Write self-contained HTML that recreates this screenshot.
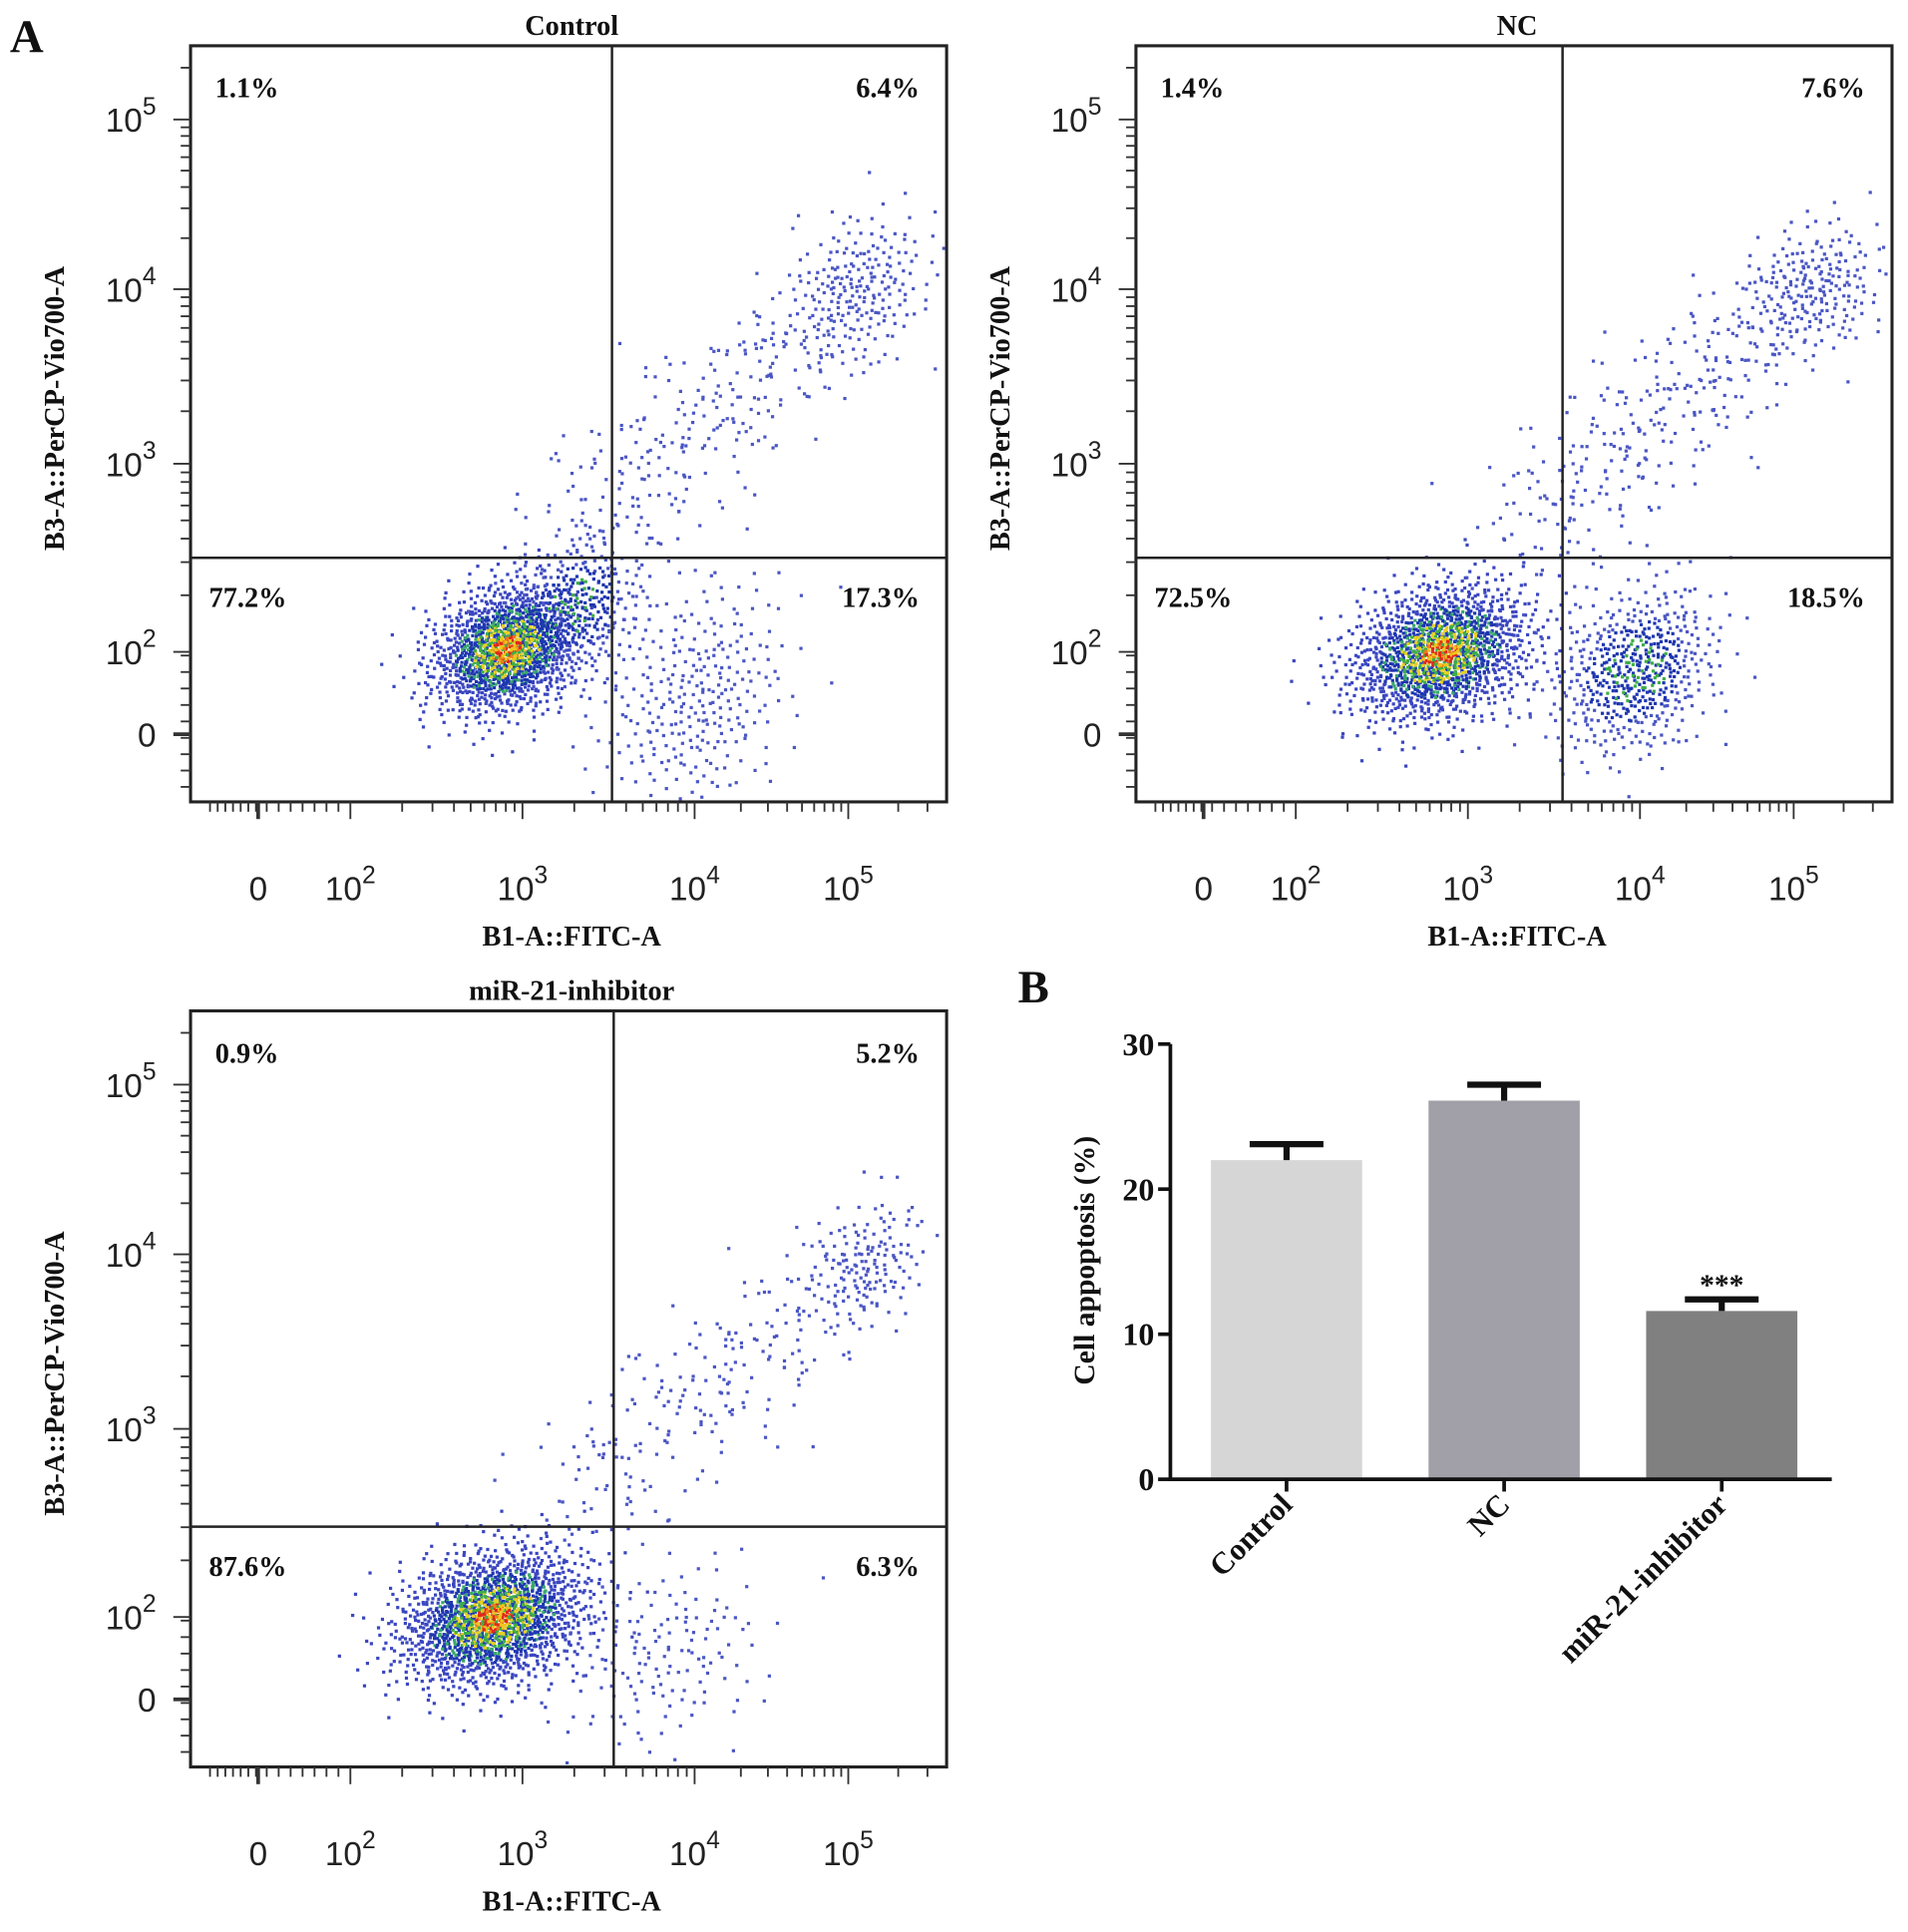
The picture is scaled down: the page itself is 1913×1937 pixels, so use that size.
<!DOCTYPE html>
<html><head><meta charset="utf-8">
<style>
html,body{margin:0;padding:0;background:#fff;}
svg{display:block;}
.ser{font-family:"Liberation Serif",serif;font-weight:bold;fill:#111;}
.sans{font-family:"Liberation Sans",sans-serif;fill:#222;}
</style></head>
<body>
<svg id="fig" width="1913" height="1937" viewBox="0 0 1552 1571" xmlns="http://www.w3.org/2000/svg">
<text class="ser" x="8" y="42" font-size="38">A</text>
<text class="ser" x="828" y="815" font-size="38">B</text>
<g id="flows"></g>
<g id="bars"></g>
</svg>
<script>
// ---- Flow cytometry data (cluster descriptors in display-channel units) ----
const panelTitles = ["Control", "NC", "miR-21-inhibitor"];
const quadrantPercents = [
  ["1.1%", "6.4%", "77.2%", "17.3%"],
  ["1.4%", "7.6%", "72.5%", "18.5%"],
  ["0.9%", "5.2%", "87.6%", "6.3%"]
];
// each cluster: [x0, y0, x1, y1, sx, sy, n, mode]  mode 1 = dense heat colouring, 2 = light colouring
const clustersControl = [
  [2.9, 2.02, 2.9, 2.02, 0.22, 0.17, 1400, 1],
  [3.3, 2.25, 3.3, 2.25, 0.2, 0.18, 300, 2],
  [3.25, 2.65, 4.8, 3.8, 0.22, 0.25, 260, 0],
  [5.05, 4.0, 5.05, 4.0, 0.22, 0.22, 220, 0],
  [4.0, 1.75, 4.0, 1.75, 0.3, 0.32, 300, 0]
];
const clustersNC = [
  [2.83, 2.0, 2.83, 2.0, 0.26, 0.18, 1500, 1],
  [3.97, 1.9, 3.97, 1.9, 0.25, 0.22, 550, 2],
  [3.3, 2.65, 4.8, 3.8, 0.22, 0.25, 280, 0],
  [5.1, 4.0, 5.1, 4.0, 0.22, 0.2, 230, 0]
];
const clustersMiR = [
  [2.82, 2.0, 2.82, 2.0, 0.27, 0.18, 1700, 1],
  [3.25, 2.65, 4.9, 3.8, 0.22, 0.25, 220, 0],
  [5.1, 3.95, 5.1, 3.95, 0.18, 0.18, 150, 0],
  [3.8, 1.8, 3.8, 1.8, 0.32, 0.25, 150, 0]
];
const flowClusters = [clustersControl, clustersNC, clustersMiR];
const yTickValues = [1.55, 2, 3, 4, 5];
const yTickLabels = ["0", "2", "3", "4", "5"];
const xTickValues = [1.46, 2, 3, 4, 5];
const xTickLabels = ["0", "2", "3", "4", "5"];
const quadX = [3.52, 3.55, 3.53];
const quadY = [2.5, 2.5, 2.48];

// ---- Bar chart data ----
const barCategories = ["Control", "NC", "miR-21-inhibitor"];
const barValues = [22.0, 26.1, 11.6];
const barErrors = [1.1, 1.1, 0.8];
const barTicks = [0, 10, 20, 30];
const barColors = ["#d6d6d6", "#a1a0a8", "#808080"];

const NS = "http://www.w3.org/2000/svg";
function mk(tag, attrs, parent) {
  const e = document.createElementNS(NS, tag);
  for (const k in attrs) e.setAttribute(k, attrs[k]);
  parent.appendChild(e);
  return e;
}
function interp(knots, v) {
  for (let i = 0; i < knots.length - 1; i++) {
    const a = knots[i], b = knots[i + 1];
    if (v <= b[0] || i === knots.length - 2) return a[1] + (v - a[0]) * (b[1] - a[1]) / (b[0] - a[0]);
  }
}
const xKnots = [[0, -75], [1.46, 55], [2, 130], [3, 270], [4, 410], [5, 535], [6, 670]];
const yKnots = [[0.5, 715], [1.55, 560], [2, 493], [3, 340], [4, 198], [5, 60], [6, -80]];
function halton(i, b) { let f = 1, r = 0; while (i > 0) { f /= b; r += f * (i % b); i = Math.floor(i / b); } return r; }

const panels = [[155, 37], [924, 37], [155, 822]];
const W = 615, H = 615;
const flows = document.getElementById("flows");

panels.forEach((p, pi) => {
  const [L, T] = p;
  const xs = v => L + interp(xKnots, v);
  const ys = v => T + interp(yKnots, v);
  const g = mk("g", {}, flows);
  
  
  const t = mk("text", { x: L + 310, y: T - 9, "font-size": 23, "text-anchor": "middle", class: "ser" }, g);
  t.textContent = panelTitles[pi];
  
  
  const pts = [];
  let seed = 1 + pi * 7000;
  flowClusters[pi].forEach(c => {
    const [x0, y0, x1, y1, sx, sy, n, mode] = c;
    for (let k = 0; k < n; k++) {
      seed++;
      const u1 = Math.max(halton(seed, 2), 0.004), u2 = halton(seed, 3), tt = halton(seed, 5), cc = halton(seed, 7);
      const rr = Math.sqrt(-2 * Math.log(u1));
      const zx = rr * Math.cos(2 * Math.PI * u2), zy = rr * Math.sin(2 * Math.PI * u2);
      const vx = x0 + (x1 - x0) * tt + zx * sx, vy = y0 + (y1 - y0) * tt + zy * sy + zx * sy * 0.25;
      let col = "#4a56c4", rank = 0;
      if (mode === 1) {
        if (rr < 0.4) { col = cc < 0.35 ? "#e0281a" : (cc < 0.7 ? "#f0c41e" : (cc < 0.85 ? "#f07a18" : "#3eae48")); rank = 3; }
        else if (rr < 0.9) { if (cc < 0.25) { col = "#e8d024"; rank = 2; } else if (cc < 0.55) { col = "#3eae48"; rank = 2; } else { col = "#1f3cb8"; rank = 1; } }
        else if (rr < 1.35) { if (cc < 0.25) { col = "#38a868"; rank = 1; } else { col = "#1e36b0"; rank = 1; } }
        else { col = "#3a46c0"; }
      } else if (mode === 2) {
        if (rr < 0.8 && cc < 0.3) { col = "#3eae48"; rank = 2; }
        else if (rr < 1.2) { col = "#1e36b0"; rank = 1; }
      }
      const px = xs(vx), py = ys(vy);
      if (px < L + 3 || px > L + W - 3 || py < T + 3 || py > T + H - 3) continue;
      pts.push([px, py, col, rank]);
    }
  });
  pts.sort((a, b) => a[3] - b[3]);
  const pg = mk("g", {}, g);
  
  
  pts.forEach(q => mk("rect", { x: q[0].toFixed(1), y: q[1].toFixed(1), width: 2.6, height: 2.6, fill: q[2] }, pg));
  const box = mk("rect", { x: L, y: T, width: W, height: H, fill: "none", stroke: "#222", "stroke-width": 2.5 }, g);
  
  
  const qv = mk("line", { x1: xs(quadX[pi]), x2: xs(quadX[pi]), y1: T, y2: T + H, stroke: "#222", "stroke-width": 2 }, g);
  
  
  const qh = mk("line", { x1: L, x2: L + W, y1: ys(quadY[pi]), y2: ys(quadY[pi]), stroke: "#222", "stroke-width": 2 }, g);
  
  
  const qp = quadrantPercents[pi];
  const qpos = [[L + 20, T + 42, "start"], [L + W - 22, T + 42, "end"], [L + 15, ys(quadY[pi]) + 40, "start"], [L + W - 22, ys(quadY[pi]) + 40, "end"]];
  const qn = ["q1-label", "q2-label", "q3-label", "q4-label"];
  qp.forEach((s, i) => {
    const e = mk("text", { x: qpos[i][0], y: qpos[i][1], "font-size": 23, "text-anchor": qpos[i][2], class: "ser" }, g);
    e.textContent = s;
    
    
  });
  for (let d = 2; d < 5.5; d += 1) {
    for (let m = 1; m < 10; m++) {
      const yy = ys(d + Math.log10(m));
      if (yy < T + 10) continue;
      mk("line", { x1: L - (m === 1 ? 14 : 8), x2: L, y1: yy, y2: yy, stroke: "#333", "stroke-width": 1.5 }, g);
    }
  }
  for (let v = 0.9; v < 2; v += 0.09) {
    const yy = ys(v);
    if (yy > T + H) continue;
    mk("line", { x1: L - 8, x2: L, y1: yy, y2: yy, stroke: "#333", "stroke-width": 1.5 }, g);
  }
  mk("line", { x1: L - 14, x2: L, y1: ys(1.55), y2: ys(1.55), stroke: "#333", "stroke-width": 3 }, g);
  for (let d = 2; d < 6; d += 1) {
    for (let m = 1; m < 10; m++) {
      const xx = xs(d + Math.log10(m));
      if (xx > L + W - 5) continue;
      mk("line", { x1: xx, x2: xx, y1: T + H, y2: T + H + (m === 1 ? 14 : 8), stroke: "#333", "stroke-width": 1.5 }, g);
    }
  }
  for (let v = 1.02; v < 2; v += 0.07) {
    const xx = xs(v);
    if (xx < L) continue;
    mk("line", { x1: xx, x2: xx, y1: T + H, y2: T + H + 8, stroke: "#333", "stroke-width": 1.5 }, g);
  }
  mk("line", { x1: xs(1.46), x2: xs(1.46), y1: T + H, y2: T + H + 14, stroke: "#333", "stroke-width": 3 }, g);
  yTickLabels.forEach((s, i) => {
    const e = mk("text", { x: L - 28, y: ys(yTickValues[i]) + 10, "font-size": 27, "text-anchor": "end", class: "sans" }, g);
    if (s === "0") e.textContent = "0";
    else { e.textContent = "10"; const sp = mk("tspan", { dy: -14, "font-size": 20 }, e); sp.textContent = s; }
    
    
  });
  xTickLabels.forEach((s, i) => {
    const e = mk("text", { x: xs(xTickValues[i]), y: T + H + 80, "font-size": 27, "text-anchor": "middle", class: "sans" }, g);
    if (s === "0") e.textContent = "0";
    else { e.textContent = "10"; const sp = mk("tspan", { dy: -14, "font-size": 20 }, e); sp.textContent = s; }
    
    
  });
  const xt = mk("text", { x: L + 310, y: T + H + 117, "font-size": 23, "text-anchor": "middle", class: "ser" }, g);
  xt.textContent = "B1-A::FITC-A";
  
  
  const yt = mk("text", { x: 0, y: 0, "font-size": 23, "text-anchor": "middle", class: "ser", transform: `translate(${L - 103},${T + 295}) rotate(-90)` }, g);
  yt.textContent = "B3-A::PerCP-Vio700-A";
  
  
});

// ---- Bar chart ----
const bars = document.getElementById("bars");
const AX = 952, Y0 = 1203, Y30 = 849, XR = 1490;
const by = v => Y0 + (Y30 - Y0) * v / 30;
const bandL = 962, band = 177, bw = 123;
const bx = i => bandL + 23 + band * i;
barCategories.forEach((c, i) => {
  const top = by(barValues[i]);
  const r = mk("rect", { x: bx(i), y: top, width: bw, height: Y0 - top, fill: barColors[i] }, bars);
  
  
  const cx = bx(i) + bw / 2, et = by(barValues[i] + barErrors[i]);
  const eb = mk("path", { d: `M${cx},${top} V${et} M${cx - 30},${et} H${cx + 30}`, stroke: "#111", "stroke-width": 5, fill: "none" }, bars);
  
  
  mk("line", { x1: cx, x2: cx, y1: Y0, y2: Y0 + 10, stroke: "#111", "stroke-width": 3 }, bars);
  const lab = mk("text", { x: 0, y: 0, "font-size": 25, "text-anchor": "end", class: "ser", transform: `translate(${cx + 6},${Y0 + 22}) rotate(-45)` }, bars);
  lab.textContent = c;
  
  
});
const star = mk("text", { x: bx(2) + bw / 2, y: by(barValues[2] + barErrors[2]) - 4, "font-size": 24, "text-anchor": "middle", class: "ser", fill: "#555" }, bars);
star.textContent = "***";


const ax = mk("path", { d: `M${AX},${Y30} V${Y0} H${XR}`, stroke: "#111", "stroke-width": 3, fill: "none" }, bars);


barTicks.forEach(v => {
  mk("line", { x1: AX - 10, x2: AX, y1: by(v), y2: by(v), stroke: "#111", "stroke-width": 3 }, bars);
  const e = mk("text", { x: AX - 13, y: by(v) + 9, "font-size": 26, "text-anchor": "end", class: "ser" }, bars);
  e.textContent = v;
  
  
});
const byt = mk("text", { x: 0, y: 0, "font-size": 24, "text-anchor": "middle", class: "ser", transform: `translate(890,1025) rotate(-90)` }, bars);
byt.textContent = "Cell appoptosis (%)";


</script>
</body></html>
